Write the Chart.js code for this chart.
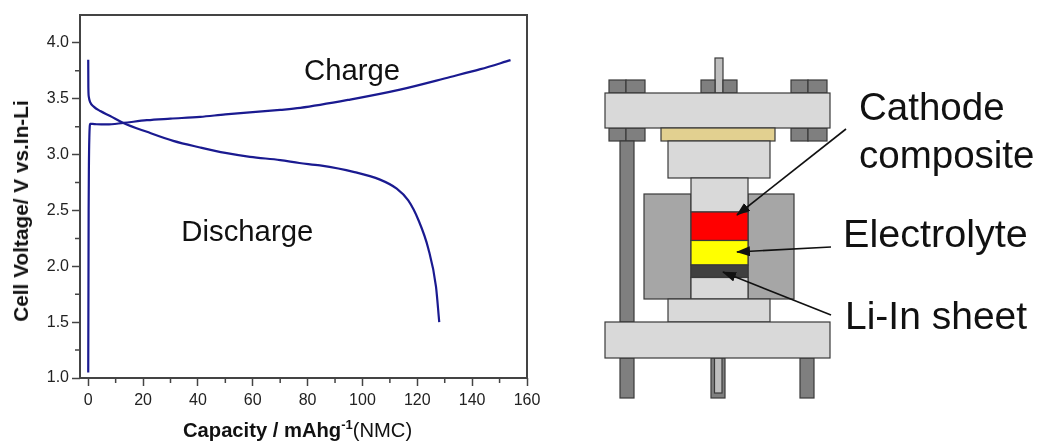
<!DOCTYPE html>
<html>
<head>
<meta charset="utf-8">
<title>Cell voltage</title>
<script src="https://cdn.jsdelivr.net/npm/chart.js@4"></script>
<style>
  html, body { margin: 0; padding: 0; background: #fff; }
  #page { position: relative; width: 1039px; height: 445px; overflow: hidden; font-family: "Liberation Sans", Arial, sans-serif; }
  #chartBox { position: absolute; left: 0; top: 0; width: 560px; height: 445px; }
  #xTitle { position: absolute; left: 183px; top: 418px; font-size: 20.2px; line-height: 24px; color: #111; white-space: nowrap; }
  #xTitle b sup { font-size: 13px; line-height: 0; }
  #yTitle { position: absolute; left: 21px; top: 211px; font-size: 20.8px; line-height: 24px; font-weight: bold; color: #111; white-space: nowrap; transform: translate(-50%, -50%) rotate(-90deg); }
  #cell { position: absolute; left: 0; top: 0; }
  #cell text { font-size: 38.5px; fill: #111; }
</style>
</head>
<body>
<div id="page">
  <div id="chartBox"><canvas id="voltageChart"></canvas></div>
  <div id="yTitle">Cell Voltage/ V vs.In-Li</div>
  <div id="xTitle"><b>Capacity / mAhg<sup>-1</sup></b>(NMC)</div>

  <!-- Esquema de la celda -->
  <svg id="cell" width="1039" height="445" stroke="#3a3a3a" stroke-width="1.2">
    <defs>
      <marker id="head" markerWidth="14" markerHeight="10" refX="13" refY="5" orient="auto" markerUnits="userSpaceOnUse">
        <path d="M0 0 L14 5 L0 10 Z" fill="#111" stroke="none"/>
      </marker>
    </defs>
    <rect x="715" y="58" width="8" height="35" fill="#bfbfbf"/>
    <g fill="#7f7f7f">
      <rect x="609" y="80" width="17" height="13"/><rect x="626" y="80" width="19" height="13"/>
      <rect x="701" y="80" width="14" height="13"/><rect x="723" y="80" width="14" height="13"/>
      <rect x="791" y="80" width="17" height="13"/><rect x="808" y="80" width="19" height="13"/>
      <rect x="609" y="128" width="17" height="13"/><rect x="626" y="128" width="19" height="13"/>
      <rect x="791" y="128" width="17" height="13"/><rect x="808" y="128" width="19" height="13"/>
      <rect x="620" y="141" width="14" height="181"/>
      <rect x="620" y="358" width="14" height="40"/>
      <rect x="800" y="358" width="14" height="40"/>
      <rect x="711" y="358" width="14" height="40"/>
    </g>
    <rect x="714.5" y="358" width="7.5" height="35" fill="#bfbfbf"/>
    <rect x="605" y="93" width="225" height="35" fill="#d9d9d9"/>
    <rect x="661" y="128" width="114" height="13" fill="#e2d090"/>
    <rect x="668" y="141" width="102" height="37" fill="#d9d9d9"/>
    <rect x="644" y="194" width="47" height="105" fill="#a6a6a6"/>
    <rect x="748" y="194" width="46" height="105" fill="#a6a6a6"/>
    <rect x="691" y="178" width="57" height="34" fill="#d9d9d9"/>
    <rect x="691" y="212" width="57" height="28.5" fill="#ff0000"/>
    <rect x="691" y="240.5" width="57" height="24.5" fill="#ffff00"/>
    <rect x="691" y="265" width="57" height="12.5" fill="#404040"/>
    <rect x="691" y="277.5" width="57" height="21.5" fill="#d9d9d9"/>
    <rect x="668" y="299" width="102" height="23" fill="#d9d9d9"/>
    <rect x="605" y="322" width="225" height="36" fill="#d9d9d9"/>
    <g stroke="#111" stroke-width="1.6" fill="none">
      <line x1="846" y1="129" x2="737" y2="215" marker-end="url(#head)"/>
      <line x1="831" y1="247" x2="737" y2="252" marker-end="url(#head)"/>
      <line x1="831" y1="315" x2="723" y2="272" marker-end="url(#head)"/>
    </g>
    <g stroke="none">
      <text x="859" y="120">Cathode</text>
      <text x="859" y="168">composite</text>
      <text x="843" y="247" style="font-size:39.6px">Electrolyte</text>
      <text x="845" y="329" style="font-size:39px">Li-In sheet</text>
    </g>
  </svg>
</div>

<script>
// Datos
const chargeCapacity = [0, 0.05, 0.1, 0.15, 0.25, 0.4, 0.7, 1.5, 3, 6.8, 12.8, 21.4, 30, 40.8, 50, 60, 70, 77.3, 95.5, 113.7, 132, 143, 154];
const chargeVoltage = [1.05, 1.5, 2.0, 2.5, 2.9, 3.15, 3.275, 3.275, 3.272, 3.27, 3.284, 3.308, 3.322, 3.338, 3.36, 3.38, 3.4, 3.418, 3.493, 3.582, 3.695, 3.765, 3.846];
const dischargeCapacity = [0, 0.05, 0.2, 0.7, 2, 4.4, 8, 12.8, 21.4, 31, 40.8, 50, 59, 70, 77, 84.5, 96.7, 106.4, 112.5, 116.7, 120.4, 124, 126.8, 128];
const dischargeVoltage = [3.85, 3.6, 3.52, 3.47, 3.43, 3.39, 3.346, 3.284, 3.204, 3.123, 3.064, 3.015, 2.98, 2.951, 2.925, 2.903, 2.846, 2.776, 2.695, 2.59, 2.415, 2.16, 1.82, 1.5];

const xTicks = [0, 20, 40, 60, 80, 100, 120, 140, 160];
const xMinorTicks = [10, 30, 50, 70, 90, 110, 130, 150];
const yTicks = [1.0, 1.5, 2.0, 2.5, 3.0, 3.5, 4.0];
const yMinorTicks = [1.25, 1.75, 2.25, 2.75, 3.25, 3.75];

const curveLabels = ['Charge', 'Discharge'];
const curveLabelX = [96.2, 58];
const curveLabelY = [3.737, 2.3];

const axisColor = '#444';

function toPoints(xs, ys) {
    return xs.map((x, i) => ({ x: x, y: ys[i] }));
}

// Marco y ticks menores, que Chart.js no dibuja por sí solo
const framePlugin = {
    id: 'frame',
    afterDraw(chart) {
        const { ctx, chartArea: a, scales } = chart;
        ctx.save();
        ctx.strokeStyle = axisColor;
        ctx.lineWidth = 2;
        ctx.strokeRect(a.left, a.top, a.right - a.left, a.bottom - a.top);
        ctx.lineWidth = 1.5;
        ctx.beginPath();
        xMinorTicks.forEach(v => {
            const px = scales.x.getPixelForValue(v);
            ctx.moveTo(px, a.bottom);
            ctx.lineTo(px, a.bottom + 5);
        });
        yMinorTicks.forEach(v => {
            const py = scales.y.getPixelForValue(v);
            ctx.moveTo(a.left, py);
            ctx.lineTo(a.left - 5, py);
        });
        ctx.stroke();

        // Etiquetas de las curvas
        ctx.fillStyle = '#111';
        ctx.font = '29.3px "Liberation Sans", Arial, sans-serif';
        ctx.textAlign = 'center';
        ctx.textBaseline = 'middle';
        curveLabels.forEach((label, i) => {
            ctx.fillText(label, scales.x.getPixelForValue(curveLabelX[i]), scales.y.getPixelForValue(curveLabelY[i]));
        });
        ctx.restore();
    }
};

const tickFont = { family: '"Liberation Sans", Arial, sans-serif', size: 16 };

new Chart(document.getElementById('voltageChart'), {
    type: 'line',
    data: {
        datasets: [{
            label: 'Charge',
            data: toPoints(chargeCapacity, chargeVoltage),
            borderColor: '#1a1a90',
            borderWidth: 2.2,
            pointRadius: 0,
            cubicInterpolationMode: 'monotone'
        }, {
            label: 'Discharge',
            data: toPoints(dischargeCapacity, dischargeVoltage),
            borderColor: '#1a1a90',
            borderWidth: 2.2,
            pointRadius: 0,
            cubicInterpolationMode: 'monotone'
        }]
    },
    options: {
        responsive: true,
        maintainAspectRatio: false,
        animation: false,
        layout: { padding: { top: 15, right: 33, left: 0, bottom: 0 } },
        plugins: { legend: { display: false }, tooltip: { enabled: false } },
        scales: {
            x: {
                type: 'linear',
                min: -3,
                max: 160,
                afterBuildTicks: axis => { axis.ticks = xTicks.map(v => ({ value: v })); },
                afterFit: axis => { axis.height = 67; },
                border: { display: false },
                grid: { drawOnChartArea: false, tickLength: 8, tickColor: axisColor, tickWidth: 1.5 },
                ticks: { font: tickFont, color: '#222', padding: 5, maxRotation: 0, autoSkip: false, callback: v => String(v) }
            },
            y: {
                min: 1,
                max: 4.25,
                afterBuildTicks: axis => { axis.ticks = yTicks.map(v => ({ value: v })); },
                afterFit: axis => { axis.width = 80; },
                border: { display: false },
                grid: { drawOnChartArea: false, tickLength: 8, tickColor: axisColor, tickWidth: 1.5 },
                ticks: { font: tickFont, color: '#222', padding: 3, autoSkip: false, callback: v => v.toFixed(1) }
            }
        }
    },
    plugins: [framePlugin]
});
</script>
</body>
</html>
